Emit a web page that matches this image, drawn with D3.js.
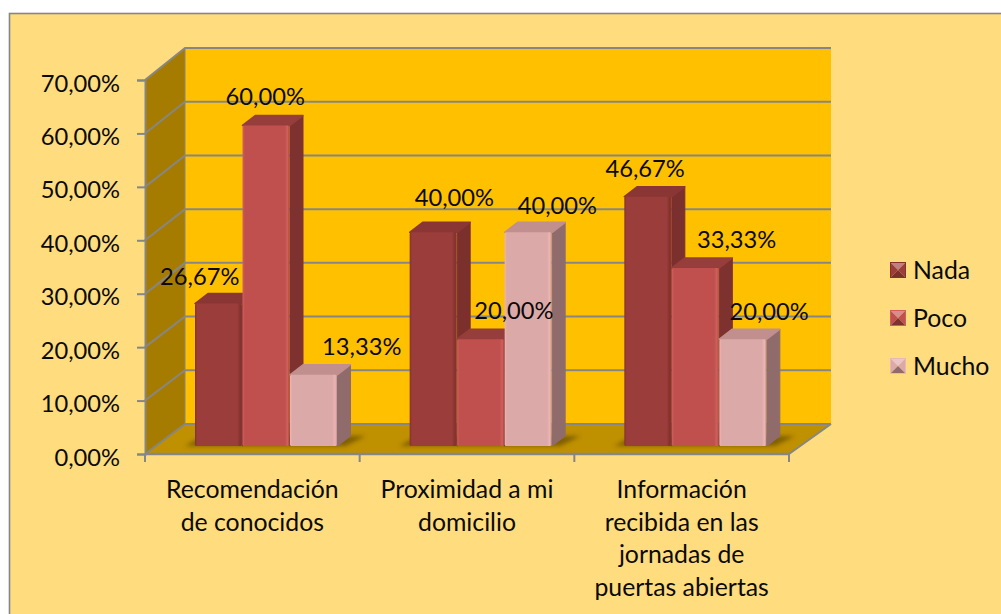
<!DOCTYPE html>
<html><head><meta charset="utf-8">
<script src="https://cdn.jsdelivr.net/npm/d3@7"></script>
<style>html,body{margin:0;padding:0;background:#fff}svg{display:block}text{font-family:Lato,"Open Sans",sans-serif;fill:#0a0a0a}</style>
</head><body><svg id="c" width="1001" height="614"></svg>
<script>
const categories = ["Recomendación de conocidos","Proximidad a mi domicilio","Información recibida en las jornadas de puertas abiertas"];
const categoryLines = [["Recomendación","de conocidos"],["Proximidad a mi","domicilio"],["Información","recibida en las","jornadas de","puertas abiertas"]];
const seriesNames = ["Nada","Poco","Mucho"];
const nada = [26.67,40.00,46.67];
const poco = [60.00,20.00,33.33];
const mucho = [13.33,40.00,20.00];
const yTicks = [0,10,20,30,40,50,60,70];

const seriesValues = [nada,poco,mucho];
const palette = [
 {front:"#9B3D3B",edge:"#85322F",side:"#7B302E",top:"#8A3634"},
 {front:"#C0504D",edge:"#D0605C",side:"#7D3230",top:"#953E3B"},
 {front:"#DBA9A8",edge:"#EDB5B4",side:"#8F6C6B",top:"#C08F8E"}];
const labelNudge = [
 [[-19,-27],[21,-35],[-3,-28]],
 [[-1,-29],[33,-28],[41,-28]],
 [[48,-28],[29,-27],[26,-27]]];

const svg = d3.select("#c");
const fmt = v => d3.format(".2f")(v).replace(".",",")+"%";
const left=145, right=789, backLeft=185, backRight=831;
const y = d3.scaleLinear().domain([0,70]).range([454,80]);
const yBack = d3.scaleLinear().domain([0,70]).range([424,48]);
const x = d3.scaleBand().domain(categories).range([left,right]);
const inner = d3.scaleBand().domain(seriesNames).range([50,50+142.5]);
const barDX=13, barDY=-10, base=-8, numSize=23.7, textSize=24.8;
const pts = a => a.map(p=>p.join(",")).join(" ");
const defs = svg.append("defs");
defs.append("filter").attr("id","blur").attr("x","-20%").attr("y","-50%").attr("width","140%").attr("height","200%")
  .append("feGaussianBlur").attr("stdDeviation",2);
palette.forEach((c,i)=>{
  const g=defs.append("linearGradient").attr("id","g"+i);
  [[0,c.edge],[.05,c.front],[.9,c.front],[.96,c.edge],[1,d3.color(c.front).darker(.4)]].forEach(s=>g.append("stop").attr("offset",s[0]).attr("stop-color",s[1]));
});

// chart area
svg.append("rect").attr("x",9.5).attr("y",13.5).attr("width",1100).attr("height",700)
  .attr("fill","#FFDC7D").attr("stroke","#868686").attr("stroke-width",1.6);

const y0=y(0), yT=y(70), by0=yBack(0), byT=yBack(70), g="#868686";
// walls
svg.append("polygon").attr("points",pts([[backLeft,byT],[backRight,byT],[backRight,by0],[backLeft,by0]])).attr("fill","#FFC000");
svg.append("polygon").attr("points",pts([[left,yT],[backLeft,byT],[backLeft,by0],[left,y0]])).attr("fill","#A67C00");
svg.append("polygon").attr("points",pts([[left,y0],[backLeft,by0],[backRight,by0],[right,y0]])).attr("fill","#BF9000");

// gridlines
yTicks.forEach(t=>{
  svg.append("polyline").attr("points",pts([[left,y(t)],[backLeft,yBack(t)],[backRight,yBack(t)]]))
   .attr("fill","none").attr("stroke",g).attr("stroke-width",2);
});
svg.append("line").attr("x1",backLeft).attr("x2",backLeft).attr("y1",byT).attr("y2",by0).attr("stroke",g).attr("stroke-width",1);
svg.append("line").attr("x1",right).attr("x2",backRight).attr("y1",y0).attr("y2",by0).attr("stroke",g).attr("stroke-width",2);
svg.append("line").attr("x1",left).attr("x2",right).attr("y1",y0).attr("y2",y0).attr("stroke",g).attr("stroke-width",2.5);

// axes
const ya=svg.append("g").attr("transform",`translate(${left},0)`)
  .call(d3.axisLeft(y).tickValues(yTicks).tickFormat(fmt).tickSize(8).tickPadding(17));
ya.select(".domain").attr("stroke",g).attr("stroke-width",2);
ya.selectAll(".tick line").attr("stroke",g).attr("stroke-width",2);
ya.selectAll("text").attr("font-size",numSize).attr("dy","0.47em").style("font-family",'Lato,sans-serif').attr("fill","#0a0a0a");
[...categories.map(c=>x(c)),right].forEach(px=>svg.append("line").attr("x1",px).attr("x2",px).attr("y1",y0).attr("y2",y0+8).attr("stroke",g).attr("stroke-width",2));

// floor shadows
categories.forEach(c=>{
  const a=x(c)+inner.range()[0], b=x(c)+inner.range()[1], yb=y0+base;
  svg.append("polygon").attr("points",pts([[a-10,yb],[a+8,yb-10],[b+28,yb-10],[b+8,yb]])).attr("fill","#6b5000").attr("opacity",.75).attr("filter","url(#blur)");
});

// bars
seriesValues.forEach((vals,s)=>{
  const c=palette[s], nm=seriesNames[s], w=inner.bandwidth();
  vals.forEach((v,i)=>{
    const a=x(categories[i])+inner(nm), yb=y0+base, yt=y(v)+base;
    const b=svg.append("g");
    b.append("polygon").attr("points",pts([[a+w,yt],[a+w+barDX,yt+barDY],[a+w+barDX,yb+barDY],[a+w,yb]])).attr("fill",c.side).attr("stroke",c.side).attr("stroke-linejoin","round");
    b.append("polygon").attr("points",pts([[a,yt],[a+barDX,yt+barDY],[a+w+barDX,yt+barDY],[a+w,yt]])).attr("fill",c.top).attr("stroke",c.top).attr("stroke-width",1.5).attr("stroke-linejoin","round");
    b.append("rect").attr("x",a).attr("y",yt).attr("width",w-.5).attr("height",yb-yt).attr("rx",1.5).attr("fill",`url(#g${s})`);
  });
});

// data labels
seriesValues.forEach((vals,s)=>vals.forEach((v,i)=>{
  const n=labelNudge[s][i];
  svg.append("text").attr("x",x(categories[i])+inner(seriesNames[s])+inner.bandwidth()/2+n[0]).attr("y",y(v)+base+n[1])
   .attr("dy","0.35em").attr("text-anchor","middle").attr("font-size",numSize).text(fmt(v));
}));

// category labels
categories.forEach((c,i)=>{
  const t=svg.append("text").attr("text-anchor","middle").attr("font-size",textSize);
  categoryLines[i].forEach((l,k)=>t.append("tspan").attr("x",x(c)+x.bandwidth()/2).attr("y",498+k*32.7).text(l));
});

// legend
const legendY=d3.scalePoint().domain(seriesNames).range([270,366]);
seriesNames.forEach((nm,s)=>{
  const c=palette[s], yy=legendY(nm), X=890, S=16, Y=yy-8, m=[X+S/2,yy];
  const g2=svg.append("g");
  const tr=(a,b,f)=>g2.append("polygon").attr("points",pts([a,b,m])).attr("fill",f);
  const mix=d3.interpolateRgb(c.front,"#ffffff");
  tr([X,Y],[X+S,Y],mix(.35));
  tr([X,Y],[X,Y+S],c.front);
  tr([X+S,Y],[X+S,Y+S],c.front);
  tr([X,Y+S],[X+S,Y+S],c.side);
  g2.append("rect").attr("x",X+.5).attr("y",Y+.5).attr("width",S-1).attr("height",S-1).attr("fill","none").attr("stroke",c.edge);
  svg.append("text").attr("x",913).attr("y",yy).attr("dy","0.35em").attr("font-size",textSize).text(nm);
});
</script></body></html>
